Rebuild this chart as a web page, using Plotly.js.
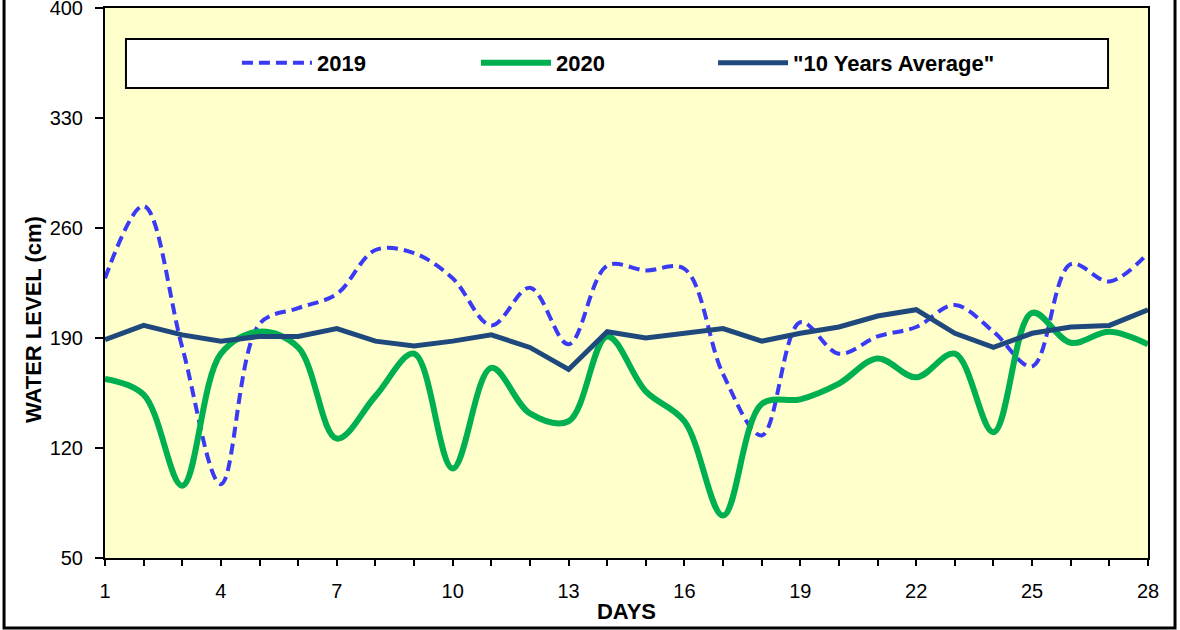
<!DOCTYPE html>
<html>
<head>
<meta charset="utf-8">
<script src="https://cdn.plot.ly/plotly-3.0.1.min.js"></script>
<style>html,body{margin:0;padding:0;background:#fff;}#chart{width:1180px;height:630px;}</style>
</head>
<body>
<div id="chart"></div>
<script>
var days = [1,2,3,4,5,6,7,8,9,10,11,12,13,14,15,16,17,18,19,20,21,22,23,24,25,26,27,28];
var level2019 = [228,274,184,97,199,209,218,246,244,228,198,222,186,236,233,234,167,128,200,180,191,197,211,194,172,237,226,244];
var level2020 = [164,154,96,180,194,184,126,153,180,107,171,142,137,191,156,137,77,148,151,161,177,165,180,130,206,187,194,186];
var avg10 = [189,198,192,188,191,191,196,188,185,188,192,184,170,194,190,193,196,188,193,197,204,208,193,184,193,197,198,208];
var seriesNames = ['2019', '2020', '"10 Years Average"'];
var yTicks = [50,120,190,260,330,400];

var font = 'Liberation Sans, Arial, sans-serif';
var traces = [
  {x: days, y: level2019, name: seriesNames[0], mode: 'lines', type: 'scatter', legend: 'legend',
   line: {color: '#3A3AF5', width: 4, dash: '11px,6px', shape: 'spline', smoothing: 1}},
  {x: days, y: level2020, name: seriesNames[1], mode: 'lines', type: 'scatter', legend: 'legend2',
   line: {color: '#00B050', width: 6, shape: 'spline', smoothing: 1}},
  {x: days, y: avg10, name: seriesNames[2], mode: 'lines', type: 'scatter', legend: 'legend3',
   line: {color: '#1F497D', width: 5}}
];

function legendAt(xp) {
  return {orientation: 'h', x: xp, xanchor: 'left', y: 0.9, yanchor: 'middle',
          bgcolor: 'rgba(0,0,0,0)', borderwidth: 0, itemwidth: 70,
          font: {family: font, size: 22, color: '#000', weight: 'bold'}};
}

var layout = {
  width: 1180, height: 630,
  margin: {l: 105, r: 32, t: 8, b: 72},
  paper_bgcolor: '#ffffff',
  plot_bgcolor: '#FFFFCC',
  font: {family: font, size: 20, color: '#000'},
  showlegend: true,
  legend: legendAt(0.1265),
  legend2: legendAt(0.3557),
  legend3: legendAt(0.5830),
  xaxis: {range: [1, 28], tick0: 1, dtick: 3, ticks: 'outside', ticklen: 6, tickwidth: 2, tickcolor: '#000',
          ticklabelstandoff: 8,
          minor: {dtick: 1, ticks: 'outside', ticklen: 6, tickwidth: 2, tickcolor: '#000'},
          showgrid: false, zeroline: false, showline: true, mirror: true, linewidth: 2, linecolor: '#000',
          tickfont: {family: font, size: 20, color: '#000'},
          title: {text: 'DAYS', standoff: 3, font: {family: font, size: 22, color: '#000', weight: 'bold'}}},
  yaxis: {range: [50, 400], tickvals: yTicks, ticks: 'outside', ticklen: 8, tickwidth: 2, tickcolor: '#000',
          ticklabeloverflow: 'allow', ticklabelstandoff: 8,
          showgrid: false, zeroline: false, showline: true, mirror: true, linewidth: 2, linecolor: '#000',
          tickfont: {family: font, size: 20, color: '#000'}},
  annotations: [{text: 'WATER LEVEL (cm)', textangle: -90, xref: 'paper', yref: 'paper',
                 x: -0.0690, y: 0.4327, xanchor: 'center', yanchor: 'middle', showarrow: false,
                 font: {family: font, size: 22, color: '#000', weight: 'bold'}}],
  shapes: [
    {type: 'rect', xref: 'paper', yref: 'paper', x0: 0.0201, x1: 0.9617, y0: 0.8546, y1: 0.9437,
     fillcolor: '#ffffff', line: {color: '#000', width: 2}, layer: 'below'},
    {type: 'rect', xref: 'paper', yref: 'paper', x0: -0.0968, x1: 1.0259, y0: -0.1273, y1: 1.03,
     fillcolor: 'rgba(0,0,0,0)', line: {color: '#000', width: 3}, layer: 'above'}
  ]
};

Plotly.newPlot('chart', traces, layout, {displayModeBar: false, staticPlot: true});
</script>
</body>
</html>
